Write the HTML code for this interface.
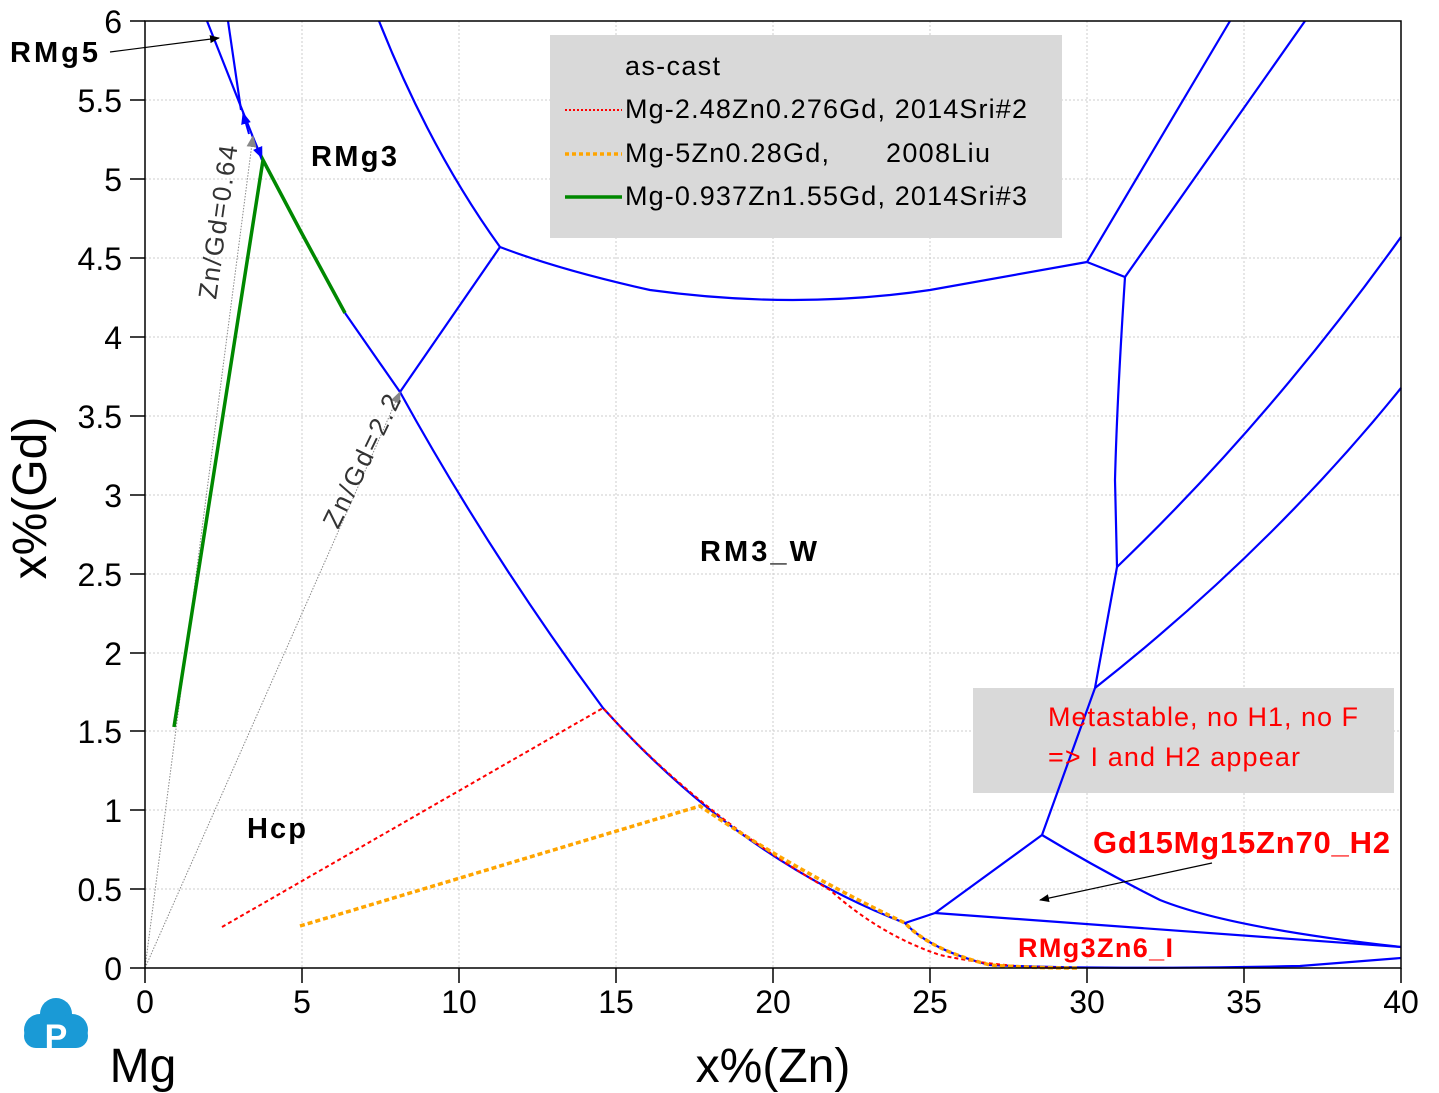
<!DOCTYPE html>
<html><head><meta charset="utf-8"><style>body{margin:0;background:#fff}svg{display:block}text{font-family:"Liberation Sans",Arial,sans-serif}</style></head><body>
<svg width="1439" height="1093" viewBox="0 0 1439 1093" xmlns="http://www.w3.org/2000/svg">
<defs>
<marker id="ab" markerWidth="10" markerHeight="8" refX="9" refY="4" orient="auto" markerUnits="userSpaceOnUse"><path d="M0,0L10,4L0,8z" fill="#000"/></marker>
<marker id="ag" markerWidth="12" markerHeight="10" refX="11" refY="5" orient="auto" markerUnits="userSpaceOnUse"><path d="M0,0L12,5L0,10z" fill="#888"/></marker>
<marker id="au" markerWidth="12" markerHeight="10" refX="11" refY="5" orient="auto" markerUnits="userSpaceOnUse"><path d="M0,0L12,5L0,10z" fill="#00f"/></marker>
</defs>
<g stroke="#ccc" stroke-width="1" stroke-dasharray="2,2">
<line x1="302" y1="21" x2="302" y2="968"/><line x1="459" y1="21" x2="459" y2="968"/><line x1="616" y1="21" x2="616" y2="968"/><line x1="773" y1="21" x2="773" y2="968"/><line x1="930" y1="21" x2="930" y2="968"/><line x1="1087" y1="21" x2="1087" y2="968"/><line x1="1244" y1="21" x2="1244" y2="968"/>
<line x1="145" y1="889" x2="1401" y2="889"/><line x1="145" y1="810" x2="1401" y2="810"/><line x1="145" y1="731" x2="1401" y2="731"/><line x1="145" y1="653" x2="1401" y2="653"/><line x1="145" y1="574" x2="1401" y2="574"/><line x1="145" y1="495" x2="1401" y2="495"/><line x1="145" y1="416" x2="1401" y2="416"/><line x1="145" y1="337" x2="1401" y2="337"/><line x1="145" y1="258" x2="1401" y2="258"/><line x1="145" y1="179" x2="1401" y2="179"/><line x1="145" y1="100" x2="1401" y2="100"/>
</g>
<rect x="550" y="35" width="512" height="203" fill="#d9d9d9"/>
<rect x="973" y="688" width="421" height="105" fill="#d9d9d9"/>
<g fill="none" stroke="#00f" stroke-width="2.2">
<path d="M379,21 Q430,150 500,247"/>
<path d="M500,247 Q560,270 650,290 Q795,310 930,290 L1087,262"/>
<path d="M1087,262 L1230,21"/><path d="M1087,262 L1125,277 L1305,21"/>
<path d="M1125,277 Q1117,400 1115,480 L1117,567 L1095,688 L1042,835"/>
<path d="M1117,567 Q1270,420 1401,237"/><path d="M1095,688 Q1270,550 1401,388"/>
<path d="M500,247 L400,392"/>
<path d="M207,21 L262,160"/><path d="M228,21 L241,110"/>
<path d="M345,313 L400,392 Q490,555 603,708 Q740,860 905,923 Q930,950 990,965 Q1100,970 1300,966 L1401,958"/>
<path d="M905,923 L935,913 L1042,835"/><path d="M935,913 L1401,947"/>
<path d="M1042,835 Q1100,870 1160,900 Q1230,928 1401,947"/>
</g>
<line x1="249" y1="134" x2="243" y2="113" stroke="#00f" stroke-width="2" marker-end="url(#au)"/>
<line x1="252" y1="135" x2="262" y2="158" stroke="#00f" stroke-width="2" marker-end="url(#au)"/>
<g stroke="#888" stroke-width="1" stroke-dasharray="1.5,1.5" fill="none">
<line x1="145" y1="968" x2="253" y2="136" marker-end="url(#ag)"/>
<line x1="145" y1="968" x2="400" y2="392" marker-end="url(#ag)"/>
</g>
<path d="M174,727 L263,160 L300,230 L345,313" fill="none" stroke="#080" stroke-width="3.5"/>
<path d="M222,927 L603,708 Q700,815 830,890 Q880,935 940,955 Q1000,968 1070,968" fill="none" stroke="#f00" stroke-width="2" stroke-dasharray="4,3"/>
<path d="M300,926 L700,806 Q790,868 905,923 Q930,950 990,965 Q1030,968 1080,968" fill="none" stroke="#ffa500" stroke-width="3.5" stroke-dasharray="5,3"/>
<rect x="145" y="21" width="1256" height="947" fill="none" stroke="#000" stroke-width="1.5"/>
<g stroke="#000" stroke-width="1.5">
<line x1="130" y1="968" x2="145" y2="968"/><line x1="130" y1="889" x2="145" y2="889"/><line x1="130" y1="810" x2="145" y2="810"/><line x1="130" y1="731" x2="145" y2="731"/><line x1="130" y1="653" x2="145" y2="653"/><line x1="130" y1="574" x2="145" y2="574"/><line x1="130" y1="495" x2="145" y2="495"/><line x1="130" y1="416" x2="145" y2="416"/><line x1="130" y1="337" x2="145" y2="337"/><line x1="130" y1="258" x2="145" y2="258"/><line x1="130" y1="179" x2="145" y2="179"/><line x1="130" y1="100" x2="145" y2="100"/><line x1="130" y1="21" x2="145" y2="21"/>
<line x1="145" y1="968" x2="145" y2="983"/><line x1="302" y1="968" x2="302" y2="983"/><line x1="459" y1="968" x2="459" y2="983"/><line x1="616" y1="968" x2="616" y2="983"/><line x1="773" y1="968" x2="773" y2="983"/><line x1="930" y1="968" x2="930" y2="983"/><line x1="1087" y1="968" x2="1087" y2="983"/><line x1="1244" y1="968" x2="1244" y2="983"/><line x1="1401" y1="968" x2="1401" y2="983"/>
</g>
<g font-size="32" fill="#000" text-anchor="end">
<text x="122" y="980">0</text><text x="122" y="901">0.5</text><text x="122" y="822">1</text><text x="122" y="743">1.5</text><text x="122" y="665">2</text><text x="122" y="586">2.5</text><text x="122" y="507">3</text><text x="122" y="428">3.5</text><text x="122" y="349">4</text><text x="122" y="270">4.5</text><text x="122" y="191">5</text><text x="122" y="112">5.5</text><text x="122" y="33">6</text>
</g>
<g font-size="32" fill="#000" text-anchor="middle">
<text x="145" y="1013">0</text><text x="302" y="1013">5</text><text x="459" y="1013">10</text><text x="616" y="1013">15</text><text x="773" y="1013">20</text><text x="930" y="1013">25</text><text x="1087" y="1013">30</text><text x="1244" y="1013">35</text><text x="1401" y="1013">40</text>
</g>
<text x="773" y="1082" font-size="48" text-anchor="middle">x%(Zn)</text>
<text x="143" y="1082" font-size="48" text-anchor="middle">Mg</text>
<text transform="translate(46,498) rotate(-90)" font-size="48" text-anchor="middle">x%(Gd)</text>
<g>
<circle cx="40" cy="1030" r="16" fill="#1a9ad6"/><circle cx="56" cy="1014" r="16" fill="#1a9ad6"/><circle cx="72" cy="1030" r="16" fill="#1a9ad6"/><rect x="24" y="1024" width="64" height="24" rx="12" fill="#1a9ad6"/>
<text x="56" y="1048" font-size="34" font-weight="bold" fill="#fff" text-anchor="middle">P</text>
</g>
<g font-weight="bold" font-size="29" fill="#000">
<text x="10" y="62" textLength="88">RMg5</text><text x="311" y="166" textLength="86">RMg3</text><text x="700" y="561" textLength="117">RM3_W</text><text x="247" y="838" textLength="59">Hcp</text>
</g>
<line x1="110" y1="52" x2="219" y2="38" stroke="#000" stroke-width="1.2" marker-end="url(#ab)"/>
<text font-weight="bold" font-size="31" fill="#f00" x="1093" y="853" textLength="297">Gd15Mg15Zn70_H2</text>
<text font-weight="bold" font-size="27" fill="#f00" x="1018" y="957" textLength="155">RMg3Zn6_I</text>
<line x1="1212" y1="863" x2="1040" y2="900" stroke="#000" stroke-width="1.2" marker-end="url(#ab)"/>
<g font-size="26" fill="#333"><text transform="translate(216,300) rotate(-82)" textLength="155">Zn/Gd=0.64</text><text transform="translate(338,530) rotate(-64)" textLength="145">Zn/Gd=2.2</text></g>
<g font-size="27" fill="#000">
<text x="625" y="75" textLength="95">as-cast</text>
<text x="625" y="118" textLength="402">Mg-2.48Zn0.276Gd, 2014Sri#2</text>
<text x="625" y="162" textLength="204">Mg-5Zn0.28Gd,</text><text x="886" y="162" textLength="104">2008Liu</text>
<text x="625" y="205" textLength="402">Mg-0.937Zn1.55Gd, 2014Sri#3</text>
</g>
<line x1="565" y1="110" x2="622" y2="110" stroke="#f00" stroke-width="2" stroke-dasharray="2,2"/>
<line x1="565" y1="154" x2="622" y2="154" stroke="#ffa500" stroke-width="3.5" stroke-dasharray="4,3"/>
<line x1="565" y1="197" x2="622" y2="197" stroke="#080" stroke-width="3.5"/>
<g font-size="27" fill="#f00"><text x="1048" y="726" textLength="310">Metastable, no H1, no F</text><text x="1048" y="766" textLength="252">=&gt; I and H2 appear</text></g>
</svg>
</body></html>
